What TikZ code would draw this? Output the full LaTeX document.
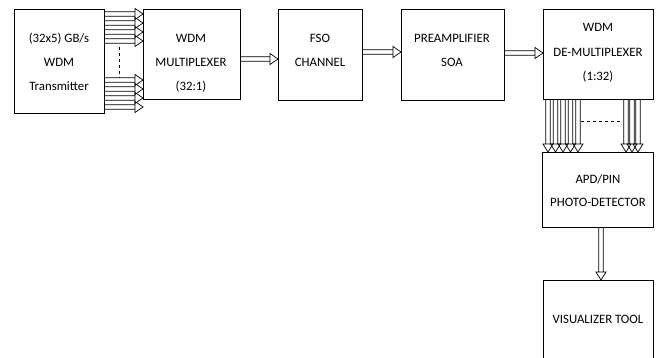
\documentclass[tikz,border=0pt]{standalone}
\usepackage{fontspec}
\setmainfont{Carlito}
\usetikzlibrary{arrows.meta,calc}
\newcommand\harr[2]{%
  \draw[shaft] let \p1=(#1), \p2=(#2) in
    (\x1,\y1+2.3) -- (\x2-8,\y2+2.3) (\x1,\y1-2.3) -- (\x2-8,\y2-2.3)
    (\x2-8,\y2+5.5) -- (#2) -- (\x2-8,\y2-5.5) -- cycle;}
\newcommand\varr[2]{%
  \draw[shaft] let \p1=(#1), \p2=(#2) in
    (\x1+2.3,\y1) -- (\x2+2.3,\y2+8) (\x1-2.3,\y1) -- (\x2-2.3,\y2+8)
    (\x2+5,\y2+8) -- (#2) -- (\x2-5,\y2+8) -- cycle;}
\begin{document}
\begin{tikzpicture}[x=1pt,y=-1pt,
  box/.style={draw, line width=0.9pt, inner sep=0pt, anchor=north west},
  lbl/.style={align=center, font=\fontsize{12.8}{24}\selectfont, inner sep=0pt, text=black},
  shaft/.style={line width=0.7pt, line join=miter},
  dashline/.style={dashed, line width=0.7pt}]
\useasboundingbox (0,0) rectangle (665,358);
\begin{scope}
\clip (0,0) rectangle (665,358);
\node[box, minimum width=90pt, minimum height=104pt] (tx) at (14,9) {};
\node[box, minimum width=97pt, minimum height=90pt] (mux) at (143,9) {};
\node[box, minimum width=84pt, minimum height=91pt] (fso) at (278,9) {};
\node[box, minimum width=103pt, minimum height=91pt] (pre) at (401,9) {};
\node[box, minimum width=110pt, minimum height=90pt] (dmx) at (543,9) {};
\node[box, minimum width=111pt, minimum height=75pt] (apd) at (542,152) {};
\node[box, minimum width=110pt, minimum height=100pt] (vis) at (543,280) {};
\end{scope}
\node[lbl] (txt1) at (59,62) {(32x5) GB/s\\WDM\\Transmitter};
\node[lbl] (txt2) at (191,63) {WDM\\MULTIPLEXER\\(32:1)};
\node[lbl] (txt3) at (320,50) {FSO\\CHANNEL};
\node[lbl] (txt4) at (452,50) {PREAMPLIFIER\\SOA};
\node[lbl, font=\fontsize{12.8}{24.5}\selectfont] (txt5) at (598,53) {WDM\\DE-MULTIPLEXER\\(1:32)};
\node[lbl, font=\fontsize{12.8}{23}\selectfont] (txt6) at (598,191) {APD/PIN\\PHOTO-DETECTOR};
\node[lbl] (txt7) at (598,319) {VISUALIZER TOOL};
% transmitter -> mux
\foreach \yy in {14,23,32,41,80,89,98,107}
  {\harr{tx.east |- 0,\yy}{mux.west |- 0,\yy}}
\coordinate (d1) at (119,47);
\coordinate (d2) at (119,78);
\draw[dashline] (d1) -- (d2);
% chain
\harr{mux.east |- 0,59}{fso.west |- 0,59}
\harr{fso.east |- 0,52}{pre.west |- 0,52}
\harr{pre.east |- 0,53}{dmx.west |- 0,53}
% demux -> apd
\foreach \xx in {548,555.5,563,570.5,578,626,632,638}
  {\varr{dmx.south -| \xx,0}{apd.north -| \xx,0}}
\coordinate (d3) at (581,121);
\coordinate (d4) at (621,121);
\draw[dashline] (d3) -- (d4);
% apd -> vis
\varr{apd.south -| 601,0}{vis.north -| 601,0}
\end{tikzpicture}
\end{document}
